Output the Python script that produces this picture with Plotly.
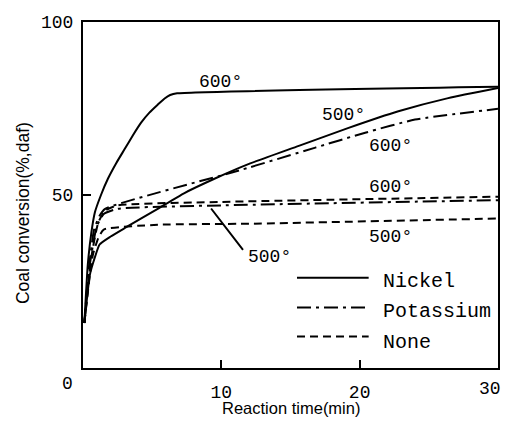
import plotly.graph_objects as go

# ---- data ----
ni600_x = [0.1, 0.35, 0.6, 0.86, 1.3, 1.8, 2.4, 3.0, 3.6, 4.2, 4.8, 5.4, 5.9, 6.3, 6.8, 30]
ni600_y = [13, 30, 39, 45, 50, 54.7, 59.2, 63.2, 67.2, 70.9, 73.8, 76.1, 77.9, 78.9, 79.4, 81.3]

ni500_x = [0.1, 0.5, 0.86, 1.2, 2.0, 3.0, 5.4, 7.3, 9.5, 12, 15.6, 19.2, 22.8, 26.4, 30]
ni500_y = [13, 27, 32, 35.7, 38, 40.4, 46, 50.5, 54.7, 59, 64.2, 69.4, 74.2, 78, 80.9]

k600_x = [0.1, 0.4, 0.8, 1.2, 1.6, 11.3, 16.8, 20.4, 24, 30]
k600_y = [13, 28, 40, 44, 46, 57.1, 63.7, 68, 71.8, 74.9]

k500_x = [0.1, 0.5, 1.0, 1.5, 2.5, 10, 30]
k500_y = [13, 30, 41, 44.5, 46, 47, 48.5]

none600_x = [0.1, 0.6, 1.1, 1.6, 2.5, 10, 30]
none600_y = [13, 32, 42, 45.5, 47, 48, 49.5]

none500_x = [0.1, 0.5, 0.72, 1.1, 1.5, 5.4, 12, 30]
none500_y = [13, 27, 32.8, 37.5, 40, 41.4, 41.7, 43.2]

x_ticks = [10, 20]
x_last_tick = 30
y_ticks = [50, 100]

legend_names = ["Nickel", "Potassium", "None"]

# ---- styles ----
MONO = "Liberation Mono"
SANS = "Liberation Sans, Arial"
styles = {
    "Nickel": dict(color="black", width=2, dash="solid"),
    "Potassium": dict(color="black", width=2, dash="14px,5px,3px,5px"),
    "None": dict(color="black", width=2, dash="8px,5px"),
}

fig = go.Figure()
series = [
    (ni600_x, ni600_y, "Nickel"),
    (ni500_x, ni500_y, "Nickel"),
    (k600_x, k600_y, "Potassium"),
    (k500_x, k500_y, "Potassium"),
    (none600_x, none600_y, "None"),
    (none500_x, none500_y, "None"),
]
for xs, ys, kind in series:
    fig.add_trace(go.Scatter(x=xs, y=ys, mode="lines",
                             line=dict(**styles[kind], shape="spline", smoothing=0.5),
                             showlegend=False, hoverinfo="skip"))

# ---- manual legend ----
leg_line_y = [26.1, 17.5, 9.1]
leg_text_y = [25.0, 16.2, 7.3]
for name, ly, ty in zip(legend_names, leg_line_y, leg_text_y):
    fig.add_trace(go.Scatter(x=[15.47, 20.65], y=[ly, ly], mode="lines",
                             line=styles[name], showlegend=False, hoverinfo="skip"))
    fig.add_annotation(x=21.55, y=ty, text=name, showarrow=False, xanchor="left",
                       yanchor="middle", font=dict(family=MONO, size=20, color="black"))

# ---- temperature labels ----
labels = [
    (9.93, 82.6, "600°"),
    (18.85, 73.1, "500°"),
    (22.2, 64.3, "600°"),
    (22.2, 52.3, "600°"),
    (22.2, 38.0, "500°"),
    (13.45, 32.0, "500°"),
]
for lx, ly, t in labels:
    fig.add_annotation(x=lx, y=ly, text=t, showarrow=False, xanchor="center",
                       yanchor="middle", font=dict(family=MONO, size=18, color="black"))

# pointer line for the lower-left 500° label
fig.add_annotation(x=9.26, y=46.1, ax=11.65, ay=33.7, axref="x", ayref="y",
                   text="", showarrow=True, arrowhead=0, arrowwidth=2,
                   arrowcolor="black", standoff=0, startstandoff=0)

# origin label "0"
fig.add_annotation(x=0, y=0, xref="x", yref="y", text="0", showarrow=False,
                   xanchor="center", yanchor="middle", xshift=-16, yshift=-16,
                   font=dict(family=MONO, size=18, color="black"))

# last x tick label, kept inside the figure's right edge
fig.add_annotation(x=x_last_tick, y=0, xref="x", yref="y", text=str(x_last_tick),
                   showarrow=False, xanchor="right", yanchor="middle",
                   xshift=5, yshift=-21,
                   font=dict(family=MONO, size=18, color="black"))

# axis titles
fig.add_annotation(x=0.501, y=-0.115, xref="paper", yref="paper",
                   text="Reaction time(min)", showarrow=False,
                   xanchor="center", yanchor="middle",
                   font=dict(family=SANS, size=16.5, color="black"))
fig.add_annotation(x=-0.146, y=0.449, xref="paper", yref="paper",
                   text="Coal conversion(%,daf)", showarrow=False, textangle=-90,
                   xanchor="center", yanchor="middle",
                   font=dict(family=SANS, size=17.5, color="black"))

fig.update_xaxes(range=[0, 30], tickvals=x_ticks, ticktext=[str(v) for v in x_ticks],
                 ticks="inside", ticklen=8, tickwidth=2, tickcolor="black",
                 ticklabelstandoff=6,
                 showline=True, linecolor="black", linewidth=2, mirror=True,
                 showgrid=False, zeroline=False,
                 tickfont=dict(family=MONO, size=18, color="black"))
fig.update_yaxes(range=[0, 100], tickvals=y_ticks, ticktext=[str(v) for v in y_ticks],
                 ticks="inside", ticklen=8, tickwidth=2, tickcolor="black",
                 ticklabelstandoff=4,
                 showline=True, linecolor="black", linewidth=2, mirror=True,
                 showgrid=False, zeroline=False,
                 tickfont=dict(family=MONO, size=18, color="black"))

# page body has an 8px margin: the figure sits at (8, 8) inside the 513x427 window
fig.update_layout(width=497, height=411, margin=dict(l=75, r=5, t=10, b=51),
                  plot_bgcolor="white", paper_bgcolor="white", showlegend=False)

fig.write_html("out.html", config={"displayModeBar": False})
